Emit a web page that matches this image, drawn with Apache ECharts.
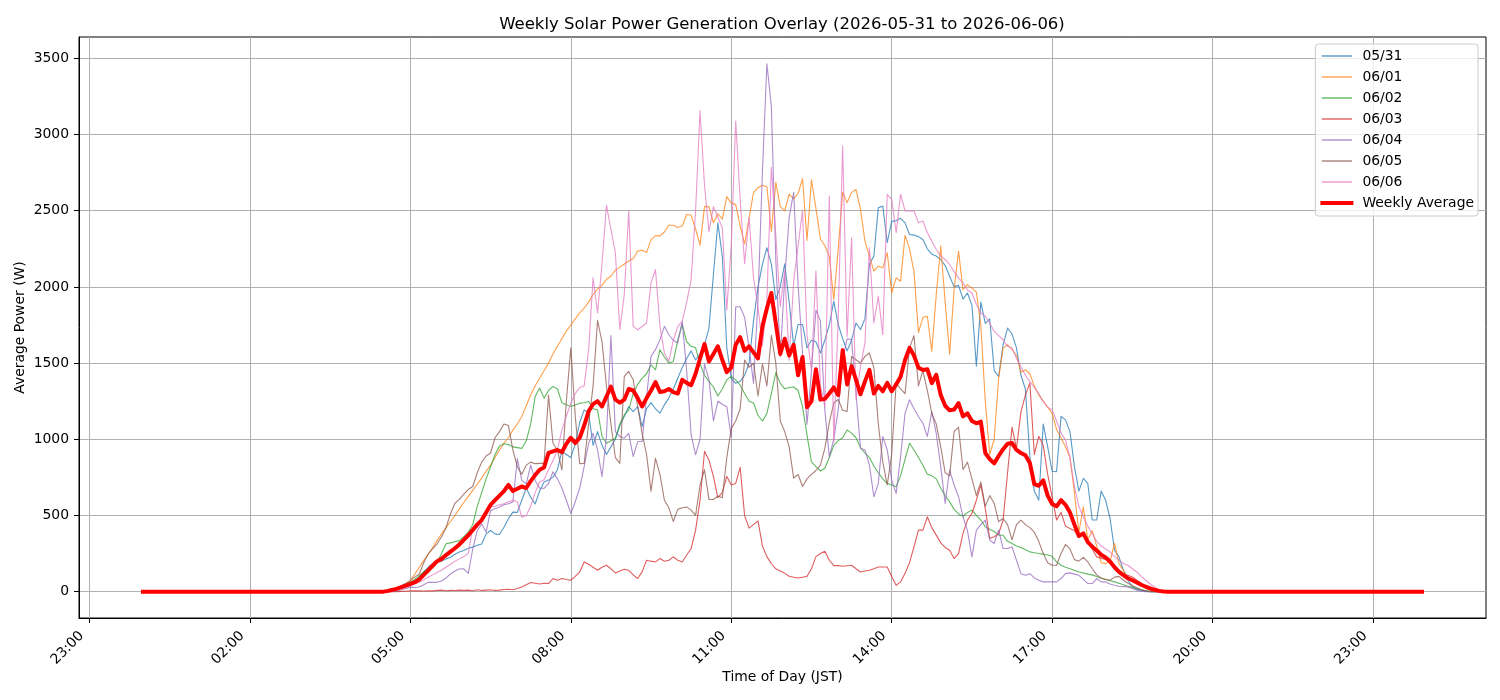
<!DOCTYPE html>
<html lang="en">
<head>
<meta charset="UTF-8" />
<title>Weekly Solar Power Generation Overlay</title>
<script src="https://cdn.jsdelivr.net/npm/echarts@6/dist/echarts.min.js"></script>
<style>
  html, body { margin: 0; padding: 0; background: #ffffff; }
  #main { width: 1500px; height: 700px; }
</style>
</head>
<body>
<div id="main"></div>
<script>
// 5-minute readings, one row per hour from 04:00 to 19:55 (night is 0 W)
const startMinute = 4 * 60;
const stepMinutes = 5;

const dayLabels = ["05/31", "06/01", "06/02", "06/03", "06/04", "06/05", "06/06"];
const xTickMinutes = [-60, 120, 300, 480, 660, 840, 1020, 1200, 1380];
const yTicks = [0, 500, 1000, 1500, 2000, 2500, 3000, 3500];

const may31 = [
  0, 0, 0, 0, 0, 0, 0, 2, 8, 15, 25, 38,
  50, 70, 94, 130, 160, 185, 195, 200, 215, 226, 245, 260,
  270, 285, 292, 305, 313, 379, 401, 379, 375, 423, 478, 522,
  520, 600, 680, 620, 575, 660, 720, 732, 750, 800, 920, 900,
  880, 970, 1110, 1193, 1171, 960, 1050, 960, 900, 950, 1000, 1090,
  1149, 1215, 1182, 1215, 1083, 1200, 1240, 1200, 1171, 1226, 1270, 1330,
  1400, 1470, 1530, 1580, 1520, 1560, 1620, 1730, 2081, 2421, 2200, 1600,
  1400, 1367, 1380, 1420, 1500, 1777, 2000, 2150, 2257, 2150, 1917, 2000,
  2152, 1900, 1613, 1753, 1753, 1600, 1650, 1640, 1566, 1650, 1750, 1906,
  1753, 1660, 1580, 1650, 1763, 1720, 1790, 2150, 2202, 2520, 2530, 2290,
  2430, 2435, 2450, 2420, 2344, 2340, 2330, 2311, 2250, 2215, 2202, 2180,
  2140, 2070, 2000, 2010, 1920, 1960, 1880, 1480, 1900, 1760, 1790, 1450,
  1412, 1620, 1730, 1690, 1600, 1420, 1330, 886, 660, 600, 1100, 950,
  790, 787, 1150, 1127, 1050, 820, 660, 743, 710, 470, 470, 660,
  600, 480, 272, 228, 140, 75, 30, 15, 9, 3, 0, 0,
  0, 0, 0, 0, 0, 0, 0, 0, 0, 0, 0, 0
];

const jun01 = [
  0, 0, 0, 0, 0, 0, 0, 3, 10, 20, 35, 50,
  72, 115, 160, 205, 245, 290, 335, 380, 420, 460, 500, 545,
  585, 625, 665, 705, 745, 790, 830, 880, 930, 975, 1010, 1060,
  1100, 1150, 1220, 1290, 1350, 1400, 1450, 1500, 1560, 1610, 1660, 1710,
  1750, 1790, 1830, 1860, 1900, 1950, 1985, 2010, 2050, 2070, 2110, 2130,
  2150, 2170, 2185, 2235, 2240, 2225, 2310, 2335, 2335, 2360, 2405, 2405,
  2390, 2400, 2475, 2470, 2380, 2274, 2527, 2527, 2421, 2480, 2445, 2592,
  2550, 2540, 2400, 2281, 2450, 2621, 2650, 2667, 2656, 2363, 2686, 2527,
  2499, 2609, 2578, 2613, 2710, 2304, 2703, 2515, 2316, 2270, 2200, 1917,
  2246, 2621, 2553, 2620, 2640, 2509, 2300, 2200, 2103, 2136, 2125, 2224,
  1960, 2059, 2037, 2338, 2250, 2100, 1700, 1800, 1807, 1577, 1950, 2268,
  1900, 1560, 1982, 2235, 1982, 2015, 1993, 1965, 1750, 1250, 900, 1000,
  1400, 1600, 1620, 1590, 1550, 1440, 1456, 1430, 1350, 1290, 1250, 1210,
  1170, 1065, 1010, 950, 880, 650, 390, 557, 340, 400, 300, 190,
  184, 200, 316, 184, 140, 90, 85, 60, 42, 25, 9, 3,
  0, 0, 0, 0, 0, 0, 0, 0, 0, 0, 0, 0
];

const jun02 = [
  0, 0, 0, 0, 0, 0, 0, 3, 10, 20, 30, 45,
  61, 80, 105, 130, 149, 170, 193, 250, 314, 320, 328, 335,
  360, 390, 440, 560, 650, 740, 820, 900, 955, 971, 965, 950,
  945, 940, 990, 1100, 1280, 1336, 1270, 1320, 1347, 1330, 1240, 1226,
  1215, 1225, 1237, 1240, 1248, 1200, 1193, 1018, 974, 990, 1007, 1100,
  1160, 1193, 1300, 1360, 1400, 1430, 1489, 1456, 1588, 1540, 1500, 1511,
  1650, 1752, 1640, 1610, 1600, 1495, 1420, 1380, 1343, 1284, 1330, 1390,
  1413, 1390, 1355, 1300, 1249, 1238, 1156, 1120, 1170, 1300, 1437, 1367,
  1331, 1340, 1343, 1320, 1214, 1027, 851, 820, 792, 810, 880, 960,
  991, 1010, 1061, 1040, 1010, 945, 910, 880, 825, 780, 740, 711,
  700, 689, 760, 870, 974, 930, 880, 830, 770, 760, 740, 680,
  630, 590, 540, 510, 495, 520, 535, 500, 470, 426, 410, 395,
  371, 370, 330, 316, 300, 289, 275, 261, 255, 250, 246, 240,
  232, 195, 173, 160, 150, 140, 129, 122, 115, 110, 100, 88,
  80, 72, 64, 55, 45, 35, 28, 20, 12, 7, 2, 0,
  0, 0, 0, 0, 0, 0, 0, 0, 0, 0, 0, 0
];

const jun03 = [
  0, 0, 0, 0, 0, 0, 0, 0, 0, 0, 2, 3,
  5, 5, 5, 4, 6, 5, 8, 10, 6, 8, 7, 10,
  8, 10, 6, 12, 8, 10, 12, 8, 10, 14, 16, 12,
  20, 30, 45, 60, 55, 50, 55, 53, 86, 75, 86, 80,
  75, 100, 129, 195, 180, 160, 140, 160, 173, 150, 123, 135,
  147, 140, 110, 86, 130, 206, 200, 195, 217, 200, 206, 228,
  206, 195, 240, 283, 404, 600, 921, 863, 757, 616, 652, 757,
  700, 710, 816, 499, 417, 440, 464, 300, 230, 183, 150, 136,
  120, 101, 95, 89, 95, 101, 150, 230, 250, 265, 206, 171,
  171, 167, 170, 173, 150, 129, 135, 140, 150, 162, 162, 162,
  100, 42, 64, 120, 190, 294, 404, 404, 491, 420, 371, 320,
  290, 272, 217, 250, 382, 469, 513, 600, 700, 546, 349, 360,
  380, 470, 780, 1080, 940, 1180, 1290, 1370, 900, 1020, 960, 770,
  620, 470, 520, 430, 414, 400, 360, 380, 330, 280, 228, 220,
  210, 190, 165, 140, 115, 107, 96, 75, 53, 35, 20, 8,
  0, 0, 0, 0, 0, 0, 0, 0, 0, 0, 0, 0
];

const jun04 = [
  0, 0, 0, 0, 0, 0, 0, 0, 2, 6, 12, 20,
  28, 28, 30, 45, 61, 61, 61, 70, 90, 116, 135, 149,
  150, 120, 280, 400, 445, 390, 533, 544, 555, 570, 577, 588,
  873, 730, 708, 830, 730, 680, 678, 710, 787, 740, 680, 600,
  513, 590, 680, 820, 974, 1039, 930, 754, 1018, 1680, 1050, 1018,
  1007, 1039, 886, 985, 985, 1281, 1544, 1588, 1654, 1741, 1686, 1650,
  1632, 1774, 1450, 1030, 898, 1000, 1495, 1390, 1120, 1249, 1230, 1214,
  1015, 1870, 1870, 1800, 1600, 1367, 1917, 2761, 3464, 3183, 2175, 1542,
  2058, 2457, 2621, 2011, 1566, 1097, 1449, 1847, 1777, 1191, 886, 1000,
  1191, 1519, 1660, 1654, 1303, 941, 930, 830, 623, 711, 1018, 930,
  732, 645, 886, 1171, 1259, 1200, 1149, 1105, 1018, 1182, 1039, 820,
  579, 798, 700, 623, 491, 400, 228, 404, 440, 469, 338, 316,
  404, 283, 283, 294, 206, 118, 107, 118, 90, 75, 64, 64,
  64, 64, 86, 118, 123, 115, 107, 80, 53, 53, 86, 64,
  64, 50, 42, 35, 33, 31, 20, 9, 3, 0, 0, 0,
  0, 0, 0, 0, 0, 0, 0, 0, 0, 0, 0, 0
];

const jun05 = [
  0, 0, 0, 0, 0, 0, 0, 3, 12, 25, 40, 55,
  72, 95, 116, 190, 248, 280, 314, 360, 420, 511, 580, 605,
  640, 670, 690, 780, 850, 890, 910, 1010, 1050, 1100, 1090, 930,
  820, 770, 830, 850, 840, 842, 842, 1290, 974, 930, 798, 1250,
  1600, 1150, 840, 842, 1100, 1350, 1780, 1640, 1350, 1100, 880, 842,
  1412, 1445, 1390, 1215, 1039, 900, 660, 875, 770, 600, 550, 460,
  540, 550, 556, 535, 500, 700, 800, 605, 605, 628, 616, 880,
  1070, 1120, 1200, 1520, 1472, 1500, 1284, 1495, 1350, 1683, 1500, 1120,
  1050, 950, 745, 769, 690, 740, 770, 795, 830, 940, 1110, 1238,
  1261, 1190, 1182, 1544, 1522, 1500, 1544, 1566, 1470, 1100, 850, 700,
  900, 1368, 1330, 1300, 1600, 1680, 1350, 1450, 1320, 1170, 1100, 950,
  780, 760, 1050, 1080, 800, 850, 740, 630, 720, 560, 630, 580,
  460, 480, 440, 340, 440, 469, 440, 420, 390, 330, 250, 190,
  173, 173, 250, 310, 280, 210, 200, 225, 195, 150, 110, 90,
  80, 75, 95, 100, 75, 55, 40, 25, 13, 5, 0, 0,
  0, 0, 0, 0, 0, 0, 0, 0, 0, 0, 0, 0
];

const jun06 = [
  0, 0, 0, 0, 0, 0, 0, 2, 8, 15, 25, 30,
  39, 50, 61, 78, 94, 110, 127, 140, 160, 180, 200, 215,
  230, 250, 423, 423, 480, 520, 555, 560, 570, 577, 590, 599,
  590, 489, 500, 560, 650, 720, 735, 800, 860, 930, 1060, 1150,
  1237, 1300, 1340, 1350, 1588, 2059, 1829, 2150, 2535, 2380, 2224, 1719,
  1950, 2498, 1741, 1719, 1740, 1763, 2026, 2114, 1741, 1566, 1511, 1650,
  1741, 1774, 1900, 2048, 2500, 3156, 2667, 2363, 2527, 2457, 2386, 1847,
  2269, 3089, 2574, 2152, 2457, 2058, 1870, 1613, 1917, 2785, 2339, 1870,
  2105, 1519, 2035, 2269, 2503, 1683, 1449, 2105, 1355, 1214, 2597, 980,
  1800, 2925, 1675, 2322, 1259, 1478, 1632, 2257, 1763, 1939, 1686, 2607,
  2575, 2355, 2607, 2498, 2498, 2498, 2421, 2432, 2355, 2300, 2245, 2202,
  2180, 2147, 2100, 2059, 2026, 1980, 1960, 1884, 1830, 1807, 1763, 1708,
  1680, 1653, 1610, 1600, 1530, 1478, 1420, 1379, 1340, 1300, 1248, 1210,
  1193, 1120, 1040, 996, 880, 690, 560, 490, 430, 380, 330, 300,
  280, 261, 230, 206, 185, 173, 150, 129, 100, 75, 50, 31,
  9, 2, 0, 0, 0, 0, 0, 0, 0, 0, 0, 0
];

const weeklyAverage = [
  0, 0, 0, 0, 0, 0, 0, 5, 12, 20, 30, 40,
  50, 62, 80, 110, 140, 170, 200, 215, 240, 262, 285, 310,
  340, 370, 405, 440, 470, 520, 570, 600, 630, 660, 700, 660,
  675, 690, 680, 725, 765, 800, 815, 910, 920, 930, 915, 970,
  1010, 975, 1010, 1090, 1185, 1230, 1250, 1215, 1280, 1345, 1260, 1240,
  1260, 1330, 1320, 1270, 1215, 1270, 1320, 1375, 1310, 1315, 1330, 1310,
  1300, 1390, 1370, 1355, 1430, 1530, 1625, 1510, 1560, 1610, 1520, 1440,
  1470, 1620, 1670, 1580, 1610, 1570, 1530, 1740, 1860, 1960, 1760, 1560,
  1660, 1550, 1620, 1420, 1540, 1210, 1250, 1460, 1260, 1265, 1300, 1340,
  1290, 1585, 1360, 1480, 1390, 1295, 1380, 1455, 1300, 1350, 1315, 1370,
  1315, 1360, 1410, 1520, 1600, 1550, 1470, 1455, 1460, 1368, 1423, 1290,
  1220, 1190, 1195, 1237, 1150, 1170, 1120, 1105, 1116, 910, 870, 842,
  890, 935, 970, 975, 930, 910, 895, 845, 705, 695, 730, 630,
  575, 560, 600, 570, 520, 440, 365, 382, 325, 295, 270, 242,
  225, 198, 160, 130, 108, 88, 75, 60, 45, 32, 22, 12,
  5, 1, 0, 0, 0, 0, 0, 0, 0, 0, 0, 0
];

const dailyValues = [may31, jun01, jun02, jun03, jun04, jun05, jun06];
const palette = ["#1f77b4", "#ff7f0e", "#2ca02c", "#d62728", "#9467bd", "#8c564b", "#e377c2"];
const averageColor = "#ff0000";
const font = "DejaVu Sans";

// full day, 00:00 .. 23:55, as [minute, watts]
function toPoints(vals) {
  const pts = [];
  for (let m = 0; m < 24 * 60; m += stepMinutes) {
    const k = (m - startMinute) / stepMinutes;
    pts.push([m, k >= 0 && k < vals.length ? vals[k] : 0]);
  }
  return pts;
}

function clockLabel(v) {
  const h = ((Math.round(v / 60) % 24) + 24) % 24;
  return String(h).padStart(2, "0") + ":00";
}

const dayLine = k => ({ color: palette[k], width: 1.1, opacity: 0.75, cap: "square", join: "round" });
const avgLine = { color: averageColor, width: 4, cap: "square", join: "round" };

const series = dayLabels.map((name, k) => ({
  name: name,
  type: "line",
  data: toPoints(dailyValues[k]),
  symbol: "none",
  showSymbol: false,
  lineStyle: dayLine(k),
  itemStyle: { color: palette[k] },
  z: 2
}));
series.push({
  name: "Weekly Average",
  type: "line",
  data: toPoints(weeklyAverage),
  symbol: "none",
  showSymbol: false,
  lineStyle: avgLine,
  itemStyle: { color: averageColor },
  z: 3
});

// legend entries: plain line samples, no marker
const legendData = dayLabels.map((name, k) => ({
  name: name,
  itemStyle: { opacity: 0 },
  lineStyle: { color: palette[k], width: 1.3, opacity: 0.8 }
}));
legendData.push({
  name: "Weekly Average",
  itemStyle: { opacity: 0 },
  lineStyle: { color: averageColor, width: 4 }
});

const chart = echarts.init(document.getElementById("main"), null, { renderer: "canvas" });

const option = {
  animation: false,
  backgroundColor: "#ffffff",
  textStyle: { fontFamily: font },
  title: {
    text: "Weekly Solar Power Generation Overlay (2026-05-31 to 2026-06-06)",
    left: 777,
    textAlign: "center",
    top: 11,
    textStyle: { fontFamily: font, fontSize: 16.5, fontWeight: "normal", color: "#000" }
  },
  legend: {
    orient: "vertical",
    right: 22,
    top: 44,
    padding: [5, 4, 6, 5],
    itemWidth: 29,
    itemHeight: 14,
    itemGap: 7,
    itemStyle: { opacity: 0 },
    backgroundColor: "rgba(255,255,255,0.8)",
    borderColor: "#cccccc",
    borderWidth: 1,
    borderRadius: 3,
    textStyle: { fontFamily: font, fontSize: 13.9, color: "#000", padding: [0, 0, 0, 6] },
    data: legendData
  },
  grid: {
    left: 79,
    right: 14,
    top: 37,
    bottom: 82,
    show: true,
    borderColor: "#000",
    borderWidth: 1,
    containLabel: false
  },
  xAxis: {
    type: "value",
    min: -71.75,
    max: 1506.75,
    name: "Time of Day (JST)",
    nameLocation: "middle",
    nameGap: 52,
    nameMoveOverlap: false,
    nameTextStyle: { fontFamily: font, fontSize: 13.9, color: "#000" },
    axisLine: { onZero: false, lineStyle: { color: "#000", width: 1 } },
    axisTick: { customValues: xTickMinutes, length: 5, lineStyle: { color: "#000" } },
    axisLabel: {
      customValues: xTickMinutes,
      rotate: 45,
      margin: 8,
      padding: [0, 11, 0, 0],
      fontFamily: font,
      fontSize: 13.9,
      color: "#000",
      formatter: clockLabel
    },
    splitLine: { show: true, lineStyle: { color: "#b0b0b0", width: 1 } }
  },
  yAxis: {
    type: "value",
    min: -173,
    max: 3640,
    name: "Average Power (W)",
    nameLocation: "middle",
    nameGap: 52,
    nameMoveOverlap: false,
    nameTextStyle: { fontFamily: font, fontSize: 13.9, color: "#000" },
    axisLine: { show: true, onZero: false, lineStyle: { color: "#000", width: 1 } },
    axisTick: { show: true, customValues: yTicks, length: 5, lineStyle: { color: "#000" } },
    axisLabel: {
      customValues: yTicks,
      margin: 10,
      fontFamily: font,
      fontSize: 13.9,
      color: "#000",
      formatter: v => String(v)
    },
    splitLine: { show: true, lineStyle: { color: "#b0b0b0", width: 1 } }
  },
  series: series
};

chart.setOption(option);
</script>
</body>
</html>
